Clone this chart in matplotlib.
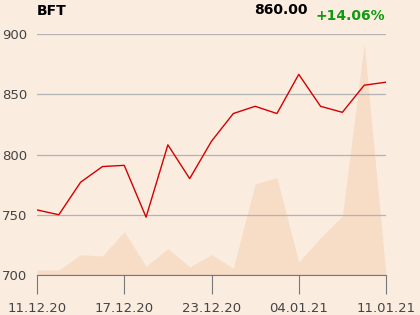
import matplotlib
matplotlib.use("Agg")
import matplotlib.pyplot as plt

dates = ["11.12.20", "14.12.20", "15.12.20", "16.12.20", "17.12.20", "18.12.20",
         "21.12.20", "22.12.20", "23.12.20", "28.12.20", "29.12.20", "30.12.20",
         "04.01.21", "05.01.21", "06.01.21", "07.01.21", "11.01.21"]
prices = [754, 750, 777, 790, 791, 748, 808, 780, 811, 834, 840, 834,
          866.5, 840, 835, 857.5, 860]
volumes = [15, 15, 61, 57, 130, 26, 79, 24, 61, 20, 273, 292, 38, 112, 177, 693, 0]
tick_labels = ["11.12.20", "17.12.20", "23.12.20", "04.01.21", "11.01.21"]
y_ticks = [700, 750, 800, 850, 900]
ticker = "BFT"
last_price = "860.00"
change = "+14.06%"

bg = "#FBECE0"
fig = plt.figure(figsize=(4.2, 3.15), dpi=100, facecolor=bg)
W, H = 420, 315
ax = fig.add_axes([37 / W, 1 - 275 / H, (386 - 37) / W, (275 - 34) / H])
ax.set_facecolor(bg)

x = list(range(len(prices)))
axv = ax.twinx()
axv.fill_between(x, 0, volumes, color="#F7DCC6", lw=0, zorder=1)
axv.set_ylim(0, 723)
axv.axis("off")
ax.set_zorder(axv.get_zorder() + 1)
ax.patch.set_visible(False)
fig.patch.set_facecolor(bg)

ax.plot(x, prices, color="#D40000", lw=1.0, zorder=3)
ax.set_xlim(0, len(prices) - 1)
ax.set_ylim(700, 900)
ax.set_yticks(y_ticks)
ax.grid(axis="y", color="#B3B3B3", lw=0.9)
ax.set_axisbelow(True)
tick_pos = [dates.index(t) for t in tick_labels]
ax.set_xticks(tick_pos)
ax.set_xticklabels(tick_labels)
for s in ["top", "right", "left"]:
    ax.spines[s].set_visible(False)
ax.spines["bottom"].set_color("#777777")
ax.tick_params(axis="x", length=14, color="#777777", labelsize=9.5, labelcolor="#444444", pad=5.5)
ax.tick_params(axis="y", length=0, labelsize=9.5, labelcolor="#444444", pad=7)

fig.text(37 / W, 1 - 11 / H, ticker, fontsize=10, fontweight="bold", ha="left", va="center")
fig.text(308 / W, 1 - 10 / H, last_price, fontsize=10, fontweight="bold", ha="right", va="center")
fig.text(385 / W, 1 - 16 / H, change, fontsize=10, fontweight="bold", color="#109A10", ha="right", va="center")

fig.savefig("out.png", dpi=100, facecolor=bg)
